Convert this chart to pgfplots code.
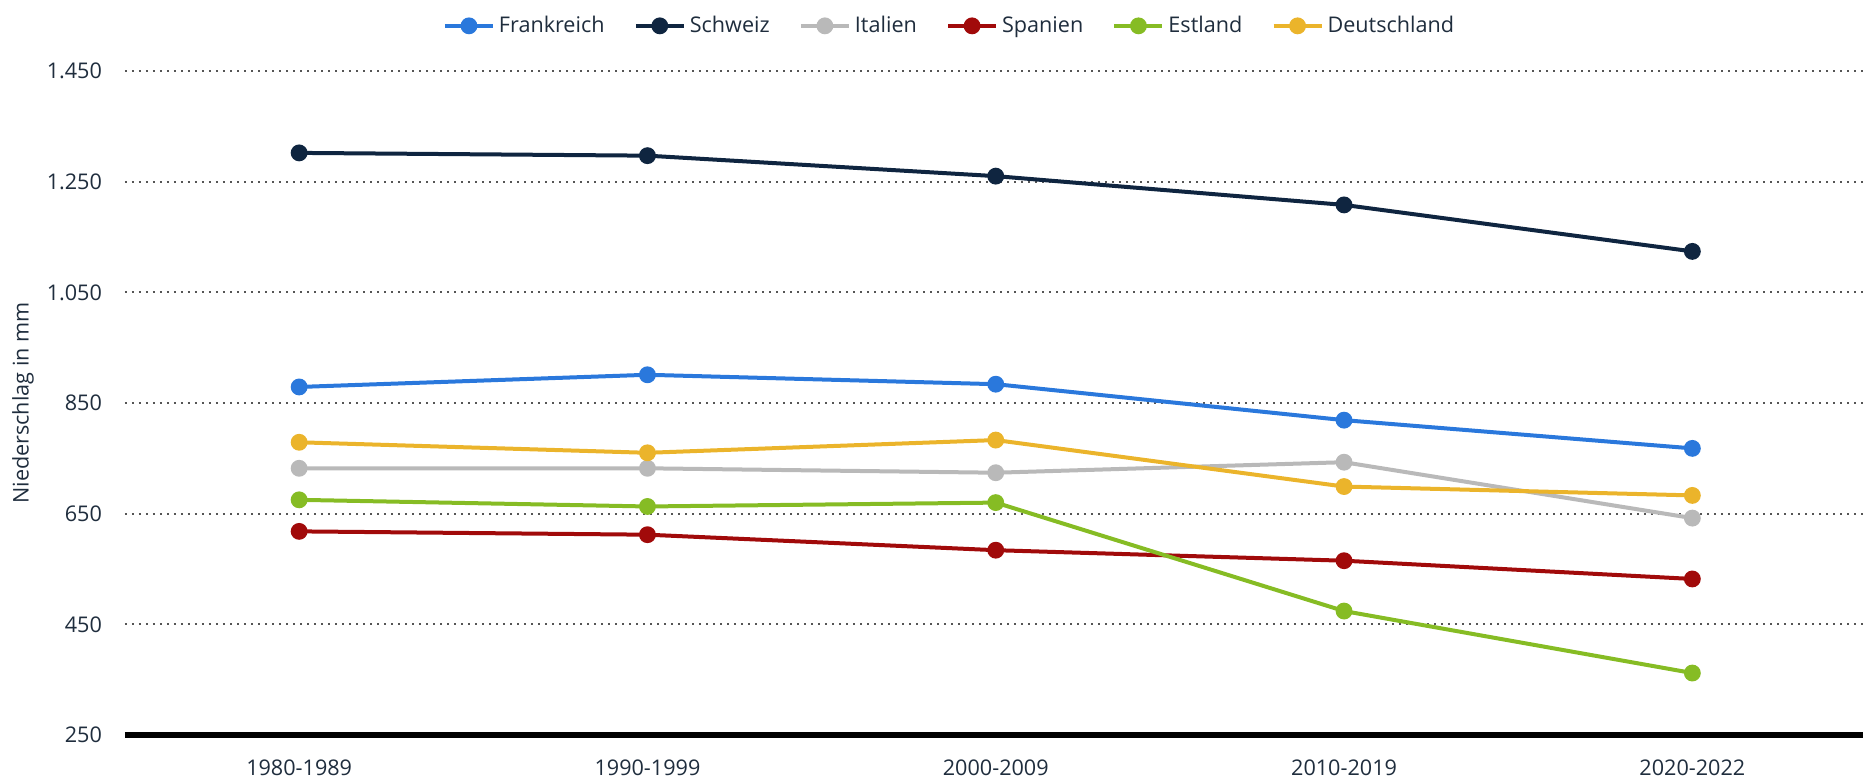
\documentclass[border=0pt]{standalone}
\usepackage{fontspec}
\setmainfont{Open Sans}
\usepackage{pgfplots}
\pgfplotsset{compat=1.18}
\definecolor{txt}{HTML}{1F2D3D}
\definecolor{cFR}{HTML}{2A78DC}
\definecolor{cCH}{HTML}{0F2540}
\definecolor{cIT}{HTML}{B9B9B9}
\definecolor{cES}{HTML}{A10A0A}
\definecolor{cEE}{HTML}{86BC24}
\definecolor{cDE}{HTML}{EBB42B}
\definecolor{gridc}{HTML}{555555}
\newcommand{\fs}{\fontsize{10.8}{13}\selectfont}
\begin{document}
\begin{tikzpicture}
\useasboundingbox (-62.5pt,-24pt) rectangle (869pt,367.5pt);
\begin{axis}[
  scale only axis,
  width=869pt, height=332pt,
  xmin=-0.5, xmax=4.49,
  ymin=250, ymax=1450,
  clip=false,
  axis x line*=bottom,
  axis y line*=left,
  x axis line style={line width=3.2pt, black, -},
  y axis line style={draw=none},
  xtick={0,1,2,3,4},
  xticklabels={1980-1989,1990-1999,2000-2009,2010-2019,2020-2022},
  ytick={450,650,850,1050,1250,1450},
  extra y ticks={250},
  extra y tick style={grid=none},
  major tick length=0pt,
  ymajorgrids=true,
  grid style={line width=1pt, gridc, dash pattern=on 0.9pt off 2.6pt},
  /pgf/number format/assume math mode=true,
  /pgf/number format/.cd, 1000 sep={.}, /pgfplots/.cd,
  yticklabel style={font=\fs, text=txt, anchor=east, xshift=-8pt},
  xticklabel style={font=\fs, text=txt, anchor=north, yshift=-9pt},
  ylabel={Niederschlag in mm},
  every axis y label/.style={at={(axis description cs:-0.0587,0.5)}, rotate=90, anchor=center, font=\fs, text=txt},
  legend columns=6,
  legend style={draw=none, fill=none, at={(axis description cs:0.475,1.068)}, anchor=center, font=\fs, text=txt,
    /tikz/every even column/.append style={column sep=12.6pt}},
  legend image code/.code={\draw[mark repeat=2,mark phase=2] plot coordinates {(0pt,0pt) (12pt,0pt) (24pt,0pt)};},
  every axis plot/.append style={line width=2pt, mark=*, mark size=3.2pt},
]
\addplot[color=cFR, mark options={fill=cFR, draw=cFR}] coordinates {(0,879) (1,901) (2,884) (3,819) (4,768)};
\addlegendentry{Frankreich}
\addplot[color=cCH, mark options={fill=cCH, draw=cCH}] coordinates {(0,1302) (1,1297) (2,1260) (3,1208) (4,1124)};
\addlegendentry{Schweiz}
\addplot[color=cIT, mark options={fill=cIT, draw=cIT}] coordinates {(0,732) (1,732) (2,724) (3,743) (4,642)};
\addlegendentry{Italien}
\addplot[color=cES, mark options={fill=cES, draw=cES}] coordinates {(0,618) (1,612) (2,584) (3,565) (4,532)};
\addlegendentry{Spanien}
\addplot[color=cEE, mark options={fill=cEE, draw=cEE}] coordinates {(0,675) (1,663) (2,670) (3,474) (4,362)};
\addlegendentry{Estland}
\addplot[color=cDE, mark options={fill=cDE, draw=cDE}] coordinates {(0,779) (1,760) (2,783) (3,699) (4,683)};
\addlegendentry{Deutschland}
\end{axis}
\end{tikzpicture}
\end{document}
